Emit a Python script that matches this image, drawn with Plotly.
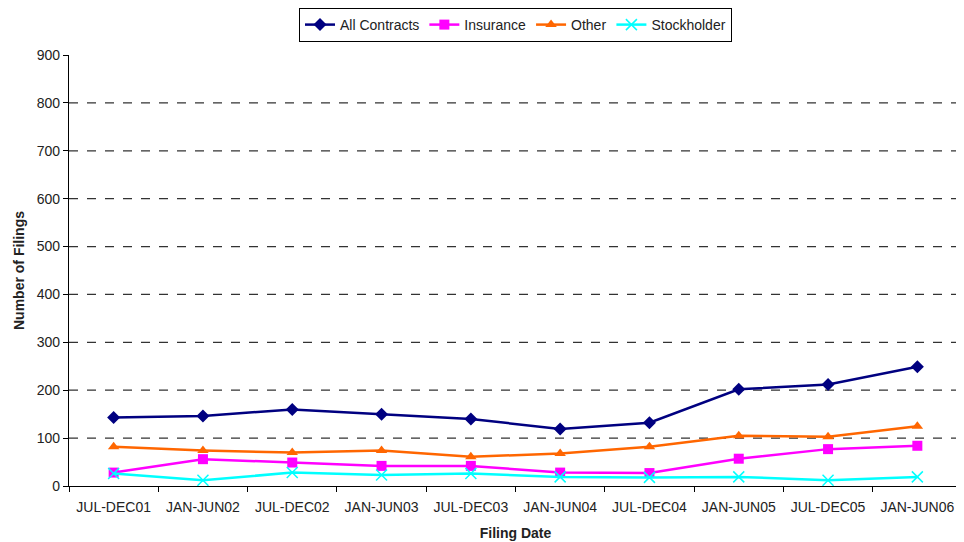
import plotly.graph_objects as go

categories = ["JUL-DEC01", "JAN-JUN02", "JUL-DEC02", "JAN-JUN03", "JUL-DEC03",
              "JAN-JUN04", "JUL-DEC04", "JAN-JUN05", "JUL-DEC05", "JAN-JUN06"]
all_contracts = [143, 146, 160, 150, 140, 119, 132, 202, 212, 249]
insurance = [28, 56, 49, 42, 42, 28, 27, 57, 77, 84]
other = [82, 74, 70, 74, 61, 68, 82, 105, 103, 125]
stockholder = [26, 12, 28, 23, 26, 19, 18, 19, 12, 19]
y_ticks = [0, 100, 200, 300, 400, 500, 600, 700, 800, 900]

fig = go.Figure()
fig.add_trace(go.Scatter(x=categories, y=all_contracts, name="All Contracts",
                         mode="lines+markers", line=dict(color="#000080", width=2.5),
                         marker=dict(symbol="diamond", size=10, color="#000080")))
fig.add_trace(go.Scatter(x=categories, y=insurance, name="Insurance",
                         mode="lines+markers", line=dict(color="#FF00FF", width=2.5),
                         marker=dict(symbol="square", size=10, color="#FF00FF")))
fig.add_trace(go.Scatter(x=categories, y=other, name="Other",
                         mode="lines+markers", line=dict(color="#FF6600", width=2.5),
                         marker=dict(symbol="triangle-up", size=10, color="#FF6600")))
fig.add_trace(go.Scatter(x=categories, y=stockholder, name="Stockholder",
                         mode="lines+markers", line=dict(color="#00FFFF", width=2.5),
                         marker=dict(symbol="x-thin", size=11, color="#00FFFF",
                                     line=dict(color="#00FFFF", width=1.5))))

for v in y_ticks[1:-1]:
    fig.add_shape(type="line", xref="paper", yref="y", x0=0, x1=1, y0=v, y1=v,
                  line=dict(color="#333333", width=1.2, dash="dash"), layer="below")

font = dict(family="Liberation Sans, Arial, sans-serif", size=14, color="#222222")
fig.update_layout(
    width=956, height=534,
    margin=dict(l=61, r=2, t=47, b=56),
    paper_bgcolor="white", plot_bgcolor="white",
    font=font,
    showlegend=True,
    legend=dict(orientation="h", x=0.5, xanchor="center", y=1.0, yanchor="top",
                yref="container", bordercolor="black", borderwidth=1,
                font=dict(size=14), itemwidth=30, tracegroupgap=0),
    xaxis=dict(showline=True, linecolor="black", linewidth=1.2, ticks="outside",
               tickson="boundaries", ticklen=5, tickcolor="black", showgrid=False,
               automargin=False, ticklabelstandoff=8,
               title=dict(text="<b>Filing Date</b>", font=dict(size=14), standoff=14),
               tickfont=dict(size=14), range=[-0.5, 9.5]),
    yaxis=dict(range=[0, 900], tickvals=y_ticks, showline=True, linecolor="black",
               linewidth=1.2, ticks="outside", ticklen=5, tickcolor="black",
               showgrid=False, zeroline=False, automargin=False,
               title=dict(text="<b>Number of Filings</b>", font=dict(size=14), standoff=8),
               tickfont=dict(size=14)),
)

fig.write_html("out.html")
